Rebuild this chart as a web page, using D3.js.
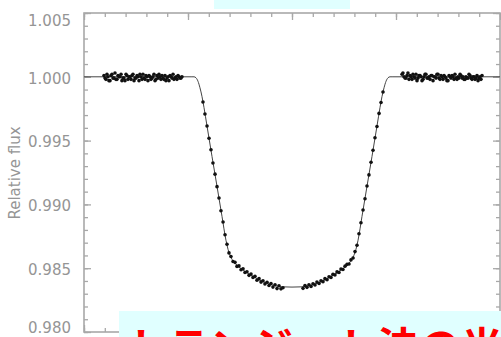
<!DOCTYPE html>
<html>
<head>
<meta charset="utf-8">
<script src="https://cdn.jsdelivr.net/npm/d3@7"></script>
<style>
  html, body { margin: 0; padding: 0; background: #fff; }
  svg { display: block; }
</style>
</head>
<body>
<svg id="chart" width="501" height="337"></svg>
<script>
// ---------- data (time in hours from mid-transit, relative flux) ----------
const yTickValues = [0.980, 0.985, 0.990, 0.995, 1.000, 1.005];
const yTickLabels = ["0.980", "0.985", "0.990", "0.995", "1.000", "1.005"];
const xTickValues = [-2, -1, 0, 1, 2];
const yTitle = "Relative flux";
const caption = "トランジット法の光度曲線";

// model light curve
const modelTime = [-2.0, -0.962, -0.942, -0.923, -0.904, -0.885, -0.865, -0.846, -0.817, -0.769, -0.721, -0.673, -0.635, -0.615, -0.596, -0.577, -0.548, -0.481, -0.385, -0.288, -0.192, -0.096, 0,
  0.096, 0.192, 0.288, 0.385, 0.481, 0.548, 0.577, 0.596, 0.615, 0.635, 0.673, 0.721, 0.769, 0.817, 0.846, 0.865, 0.885, 0.904, 0.923, 0.942, 0.962, 2.0];
const modelFlux = [1.0000, 1.0000, 1.0000, 0.99992, 0.99965, 0.99914, 0.99844, 0.99758, 0.99613, 0.99375, 0.99141, 0.98906, 0.98719, 0.98648, 0.98602, 0.98570, 0.98539, 0.98492, 0.98441, 0.98398, 0.98369, 0.98354, 0.98352,
  0.98354, 0.98369, 0.98398, 0.98441, 0.98492, 0.98539, 0.98570, 0.98602, 0.98648, 0.98719, 0.98906, 0.99141, 0.99375, 0.99613, 0.99758, 0.99844, 0.99914, 0.99965, 0.99992, 1.0000, 1.0000, 1.0000];

// observations before transit
const preTime = [-1.808, -1.798, -1.789, -1.779, -1.770, -1.760, -1.750, -1.741, -1.731, -1.721, -1.712, -1.702, -1.693, -1.683, -1.673, -1.664, -1.654, -1.644, -1.635, -1.625, -1.616, -1.606, -1.596, -1.587, -1.577, -1.567, -1.558, -1.548, -1.539, -1.529, -1.519, -1.510, -1.500, -1.490, -1.481, -1.471, -1.462, -1.452, -1.442, -1.433, -1.423, -1.413, -1.404, -1.394, -1.385, -1.375, -1.365, -1.356, -1.346, -1.337, -1.327, -1.317, -1.308, -1.298, -1.288, -1.279, -1.269, -1.260, -1.250, -1.240, -1.231, -1.221, -1.212, -1.202, -1.192, -1.183, -1.173, -1.163, -1.154, -1.144, -1.135, -1.125, -1.115, -1.106, -1.096, -1.087, -1.077, -1.067, -1.058];
const preFlux = [1.0001, 0.9999, 0.9998, 1.0002, 1.0000, 0.9997, 0.9997, 1.0001, 1.0002, 0.9999, 0.9999, 1.0003, 0.9998, 0.9998, 1.0001, 1.0000, 1.0000, 1.0002, 0.9997, 0.9999, 0.9999, 0.9997, 1.0002, 1.0001, 0.9998, 1.0000, 1.0000, 0.9998, 1.0001, 1.0002, 0.9997, 0.9999, 0.9999, 1.0001, 1.0000, 0.9997, 1.0002, 1.0000, 0.9998, 1.0002, 0.9999, 0.9998, 1.0001, 1.0000, 0.9997, 1.0001, 1.0000, 0.9998, 0.9999, 1.0000, 1.0002, 0.9997, 0.9998, 1.0001, 0.9999, 1.0002, 1.0000, 0.9998, 1.0001, 0.9999, 0.9998, 1.0001, 0.9997, 0.9999, 1.0000, 0.9997, 1.0001, 1.0000, 0.9999, 1.0002, 0.9998, 0.9999, 1.0000, 0.9998, 1.0001, 1.0000, 0.9999, 0.9999, 1.0000];

// observations during transit
const inTime = [-0.856, -0.837, -0.817, -0.798, -0.779, -0.760, -0.740, -0.721, -0.702, -0.683, -0.663, -0.644, -0.625, -0.606, -0.587, -0.567, -0.548, -0.529, -0.510, -0.490, -0.471, -0.452, -0.433, -0.413, -0.394, -0.375, -0.356, -0.337, -0.317, -0.298, -0.279, -0.260, -0.240, -0.221, -0.202, -0.183, -0.163, -0.144, -0.125, -0.106, -0.087,
  0.106, 0.125, 0.144, 0.163, 0.183, 0.202, 0.221, 0.240, 0.260, 0.279, 0.298, 0.317, 0.337, 0.356, 0.375, 0.394, 0.413, 0.433, 0.452, 0.471, 0.490, 0.510, 0.529, 0.548, 0.567, 0.587, 0.606, 0.625, 0.644, 0.663, 0.683, 0.702, 0.721, 0.740, 0.760, 0.779, 0.798, 0.817, 0.837, 0.856, 0.875];
const inFlux = [0.99802, 0.99709, 0.99615, 0.99518, 0.99428, 0.99325, 0.99237, 0.99139, 0.99050, 0.98950, 0.98862, 0.98762, 0.98688, 0.98620, 0.98592, 0.98552, 0.98546, 0.98514, 0.98518, 0.98488, 0.98496, 0.98466, 0.98472, 0.98444, 0.98455, 0.98428, 0.98436, 0.98405, 0.98418, 0.98391, 0.98402, 0.98376, 0.98390, 0.98365, 0.98380, 0.98352, 0.98370, 0.98340, 0.98362, 0.98338, 0.98347,
  0.98342, 0.98364, 0.98350, 0.98370, 0.98356, 0.98378, 0.98368, 0.98392, 0.98380, 0.98402, 0.98394, 0.98418, 0.98410, 0.98433, 0.98428, 0.98452, 0.98447, 0.98471, 0.98466, 0.98494, 0.98490, 0.98516, 0.98530, 0.98533, 0.98565, 0.98580, 0.98630, 0.98680, 0.98770, 0.98856, 0.98956, 0.99044, 0.99144, 0.99231, 0.99330, 0.99424, 0.99522, 0.99611, 0.99713, 0.99799, 0.99881];

// observations after transit
const postTime = [1.058, 1.067, 1.077, 1.087, 1.096, 1.106, 1.115, 1.125, 1.135, 1.144, 1.154, 1.163, 1.173, 1.183, 1.192, 1.202, 1.212, 1.221, 1.231, 1.240, 1.250, 1.260, 1.269, 1.279, 1.288, 1.298, 1.308, 1.317, 1.327, 1.337, 1.346, 1.356, 1.365, 1.375, 1.385, 1.394, 1.404, 1.413, 1.423, 1.433, 1.442, 1.452, 1.462, 1.471, 1.481, 1.490, 1.500, 1.510, 1.519, 1.529, 1.539, 1.548, 1.558, 1.567, 1.577, 1.587, 1.596, 1.606, 1.616, 1.625, 1.635, 1.644, 1.654, 1.664, 1.673, 1.683, 1.693, 1.702, 1.712, 1.721, 1.731, 1.741, 1.750, 1.760, 1.770, 1.779, 1.789, 1.798, 1.808, 1.817, 1.827];
const postFlux = [1.0002, 1.0003, 1.0000, 0.9999, 0.9999, 1.0001, 1.0003, 0.9998, 1.0001, 1.0000, 0.9998, 1.0002, 1.0000, 0.9999, 1.0002, 0.9997, 0.9999, 1.0001, 1.0001, 1.0000, 0.9997, 0.9998, 1.0000, 1.0002, 1.0002, 0.9999, 0.9999, 1.0000, 0.9998, 1.0001, 1.0001, 0.9997, 1.0000, 1.0000, 0.9999, 1.0002, 1.0002, 0.9999, 0.9998, 1.0001, 1.0000, 0.9998, 1.0001, 1.0000, 0.9999, 0.9997, 0.9997, 1.0001, 1.0000, 0.9999, 1.0001, 1.0000, 0.9998, 1.0002, 0.9999, 0.9998, 1.0000, 0.9999, 1.0002, 1.0001, 0.9999, 1.0000, 0.9998, 0.9998, 1.0000, 0.9999, 0.9999, 1.0002, 1.0001, 0.9999, 0.9998, 1.0000, 1.0000, 0.9998, 0.9999, 1.0001, 0.9997, 0.9999, 1.0000, 0.9998, 1.0001];

// ---------- layout ----------
const svg = d3.select("#chart");
const L = 84, R = 500, T = 13, B = 332;
const x = d3.scaleLinear().domain([-2, 2]).range([L, R]);
const y = d3.scaleLinear().domain([0.980, 1.005]).range([B, T]);
const axisColor = "#a8a8a8";
const textColor = "#959595";

const gAxes = svg.append("g");

function styleAxis(g) {
  g.select(".domain").remove();
  g.selectAll("line").attr("stroke", axisColor).attr("stroke-width", 1.3);
}

const yMinor = y.ticks(25);
const xMinor = x.ticks(16);

// minor ticks
gAxes.append("g").attr("transform", `translate(${L},0)`)
  .call(d3.axisLeft(y).tickValues(yMinor).tickSize(-4).tickFormat("")).call(styleAxis);
gAxes.append("g").attr("transform", `translate(${R},0)`)
  .call(d3.axisRight(y).tickValues(yMinor).tickSize(-4).tickFormat("")).call(styleAxis);
gAxes.append("g").attr("transform", `translate(0,${T})`)
  .call(d3.axisTop(x).tickValues(xMinor).tickSize(-4).tickFormat("")).call(styleAxis);
gAxes.append("g").attr("transform", `translate(0,${B})`)
  .call(d3.axisBottom(x).tickValues(xMinor).tickSize(-4).tickFormat("")).call(styleAxis);

// major ticks
gAxes.append("g").attr("transform", `translate(${R},0)`)
  .call(d3.axisRight(y).tickValues(yTickValues).tickSize(-7).tickFormat("")).call(styleAxis);
gAxes.append("g").attr("transform", `translate(0,${T})`)
  .call(d3.axisTop(x).tickValues(xTickValues).tickSize(-7).tickFormat("")).call(styleAxis);
gAxes.append("g").attr("transform", `translate(0,${B})`)
  .call(d3.axisBottom(x).tickValues(xTickValues).tickSize(-7).tickFormat("")).call(styleAxis);

const labelShift = [-4, 1.5, 1.5, 1.5, 1.5, 7.5];
const gLeft = gAxes.append("g").attr("transform", `translate(${L},0)`)
  .call(d3.axisLeft(y).tickValues(yTickValues).tickSize(-7).tickPadding(13)
    .tickFormat((d, i) => yTickLabels[i]))
  .call(styleAxis);
gLeft.selectAll("text")
  .attr("fill", textColor)
  .attr("font-family", "DejaVu Sans, sans-serif")
  .attr("font-size", 15)
  .attr("dy", (d, i) => (0.32 * 15 + labelShift[i]) + "px");

// frame
gAxes.append("rect")
  .attr("x", L).attr("y", T).attr("width", R - L).attr("height", B - T)
  .attr("fill", "none").attr("stroke", axisColor).attr("stroke-width", 1.6);

// y title
svg.append("text")
  .attr("transform", "translate(19.5,173) rotate(-90)")
  .attr("text-anchor", "middle")
  .attr("fill", textColor)
  .attr("font-family", "DejaVu Sans, sans-serif")
  .attr("font-size", 15)
  .text(yTitle);

// model line
const line = d3.line().x(d => x(d[0])).y(d => y(d[1])).curve(d3.curveMonotoneX);
svg.append("path")
  .datum(modelTime.map((t, i) => [t, modelFlux[i]]))
  .attr("d", line)
  .attr("fill", "none")
  .attr("stroke", "#444")
  .attr("stroke-width", 1);

// observed points
const obs = [
  ...preTime.map((t, i) => [t, preFlux[i]]),
  ...inTime.map((t, i) => [t, inFlux[i]]),
  ...postTime.map((t, i) => [t, postFlux[i]])
];
svg.append("g").selectAll("circle").data(obs).join("circle")
  .attr("cx", d => x(d[0]))
  .attr("cy", d => y(d[1]))
  .attr("r", 1.8)
  .attr("fill", "#111");

// overlay boxes
svg.append("rect").attr("x", 214).attr("y", 0).attr("width", 136).attr("height", 9)
  .attr("fill", "#e0ffff");
svg.append("rect").attr("x", 119).attr("y", 311).attr("width", 382).attr("height", 26)
  .attr("fill", "#e0ffff");
svg.append("text")
  .attr("x", 125).attr("y", 363)
  .attr("fill", "#ff0000")
  .attr("font-family", "Noto Sans CJK JP, sans-serif")
  .attr("font-weight", "bold")
  .attr("font-size", 42)
  .text(caption);
</script>
</body>
</html>
